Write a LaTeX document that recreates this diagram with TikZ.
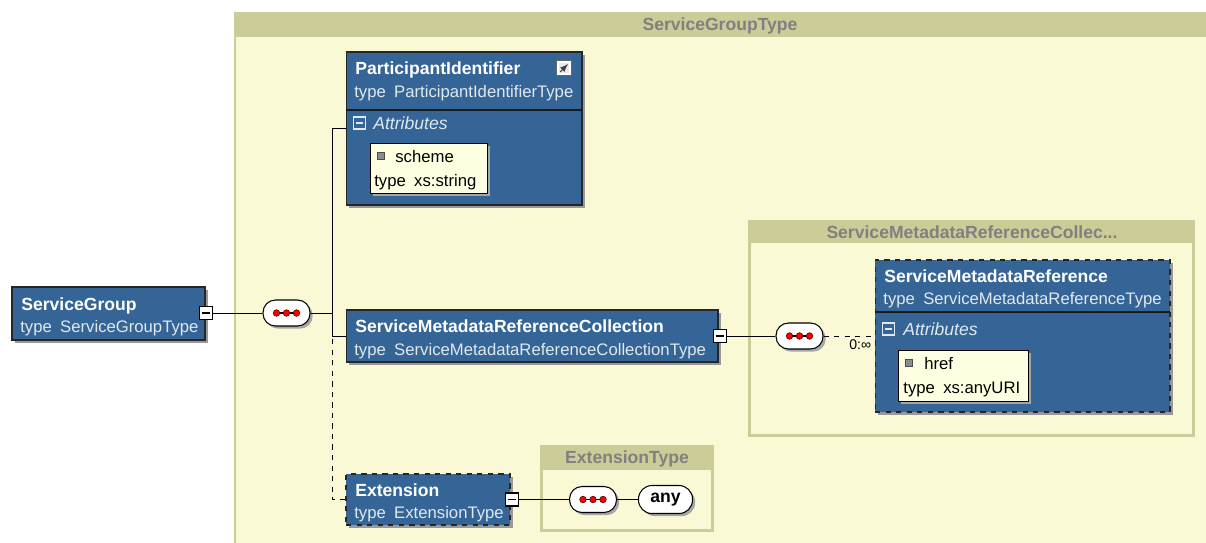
\documentclass[tikz,border=0pt]{standalone}
\usepackage{fontspec}
\setmainfont{Liberation Sans}
\usepackage{xcolor}
\usetikzlibrary{shadows}

\definecolor{elemblue}{RGB}{52,101,150}
\definecolor{khaki}{RGB}{204,204,153}
\definecolor{paleyellow}{RGB}{249,249,214}
\definecolor{attrfill}{RGB}{255,255,225}
\definecolor{typegray}{RGB}{128,128,128}

\tikzset{
  elem/.style={draw=black!85, fill=elemblue, line width=0.6pt,
    drop shadow={shadow xshift=1.7pt, shadow yshift=-1.7pt, fill=black!40, opacity=1}},
  optelem/.style={elem, dashed},
  attrbox/.style={draw=black, fill=attrfill, line width=0.5pt,
    drop shadow={shadow xshift=1.5pt, shadow yshift=-1.5pt, fill=black!35, opacity=1}},
  title/.style={anchor=base west, inner sep=0, text=white, font=\bfseries},
  typeline/.style={anchor=base west, inner sep=0, text=white!85!elemblue},
  attlabel/.style={anchor=base west, inner sep=0, text=white!85!elemblue, font=\itshape},
  attrtext/.style={anchor=base west, inner sep=0, text=black},
  header/.style={text=typegray, font=\bfseries, inner sep=0},
  minus/.style={draw=black, fill=white, minimum size=0.26cm, inner sep=0, line width=0.6pt},
  attminus/.style={draw=white!85!elemblue, minimum size=0.24cm, inner sep=0, line width=0.6pt, text=white!85!elemblue},
  bullet/.style={draw=black!70, fill=black!45, minimum size=0.13cm, inner sep=0},
  seq/.style={draw=black, fill=white, rounded corners=0.25cm, minimum width=0.94cm,
    minimum height=0.52cm, inner sep=0, line width=0.6pt,
    drop shadow={shadow xshift=1.5pt, shadow yshift=-1.5pt, fill=black!35, opacity=1}},
  dot/.style={fill=red, draw=red!45!black, line width=0.4pt},
  wild/.style={seq, font=\bfseries, minimum width=1.08cm, minimum height=0.56cm, rounded corners=0.27cm},
  link/.style={draw=black!60, fill=black!8, minimum size=0.3cm, inner sep=0},
  divider/.style={draw=black!90, line width=0.8pt},
}

\begin{document}
\begin{tikzpicture}[x=0.02cm, y=-0.02cm, font=\fontsize{9.5}{11}\selectfont]
\useasboundingbox (0,0) rectangle (1206,542);

% complex types
\fill[paleyellow] (234,12) rectangle (1210,546);
\fill[khaki] (234,12) rectangle (1210,37);
\draw[khaki, line width=1.2pt] (235,12) -- (235,546);
\node[header] (sgtype) at (720,26) {ServiceGroupType};

\fill[khaki] (748,220) rectangle (1195,437);
\fill[paleyellow] (751,243) rectangle (1192,434);
\node[header] (smrctype) at (972,232) {ServiceMetadataReferenceCollec...};

\fill[khaki] (540,445) rectangle (714,532);
\fill[paleyellow] (543,470) rectangle (711,529);
\node[header] (exttype) at (627,459) {ExtensionType};

% elements
\node[elem, minimum width=3.86cm, minimum height=1.06cm] (sg) at (108.5,313.5) {};
\node[title] (sgname) at (21,310) {ServiceGroup};
\node[typeline] (sgtypel) at (20,332) {type\enspace ServiceGroupType};
\node[minus] (sgminus) at (206,313) {\rule{5pt}{0.8pt}};

\node[seq] (seq1) at (286.5,313) {};
\coordinate (jn) at (332,313);

\node[elem, minimum width=4.72cm, minimum height=3.06cm] (pi) at (464,128.5) {};
\draw[divider] (346,110) -- (582,110);
\node[title] (piname) at (355,74) {ParticipantIdentifier};
\node[typeline] (pitype) at (354,97) {type\enspace ParticipantIdentifierType};
\node[link] (pilink) at (564,68) {};
\draw[white, line width=0.6pt] ([shift={(-6,-6)}]pilink.center) rectangle ([shift={(6,6)}]pilink.center);
\draw[->, >=latex, black!75, line width=0.6pt] ([shift={(-4,4)}]pilink.center) -- ([shift={(4,-4)}]pilink.center);
\node[attminus] (piatt) at (359.5,123) {\rule{4.5pt}{0.7pt}};
\node[attlabel] (piattl) at (373,129) {Attributes};
\node[attrbox, minimum width=2.34cm, minimum height=1.0cm] (scheme) at (428.5,168) {};
\node[bullet] (schemeb) at (381,156) {};
\node[attrtext] (schemen) at (395,162) {scheme};
\node[attrtext] (schemet) at (374,186) {type\enspace xs:string};

\node[elem, minimum width=7.44cm, minimum height=1.04cm] (smrc) at (532,336) {};
\node[title] (smrcname) at (355,332) {ServiceMetadataReferenceCollection};
\node[typeline] (smrctypel) at (354,355) {type\enspace ServiceMetadataReferenceCollectionType};
\node[minus] (smrcminus) at (720,336) {\rule{5pt}{0.8pt}};

\node[seq] (seq2) at (799.5,336) {};

\node[optelem, minimum width=5.9cm, minimum height=3.04cm] (smr) at (1022.5,336) {};
\draw[divider] (875,312) -- (1170,312);
\node[title] (smrname) at (884,282) {ServiceMetadataReference};
\node[typeline] (smrtypel) at (883,304) {type\enspace ServiceMetadataReferenceType};
\node[attminus] (smratt) at (888.5,329) {\rule{4.5pt}{0.7pt}};
\node[attlabel] (smrattl) at (903,335) {Attributes};
\node[attrbox, minimum width=2.6cm, minimum height=1.02cm] (href) at (963,375.5) {};
\node[bullet] (hrefb) at (909,363) {};
\node[attrtext] (hrefn) at (924,369) {href};
\node[attrtext] (hreft) at (903,393) {type\enspace xs:anyURI};

\node[optelem, minimum width=3.28cm, minimum height=1.02cm] (ext) at (428,499.5) {};
\node[title] (extname) at (355,496) {Extension};
\node[typeline] (exttypel) at (354,518) {type\enspace ExtensionType};
\node[minus] (extminus) at (512,499.5) {\rule{5pt}{0.8pt}};

\node[seq] (seq3) at (593,499.5) {};
\node[wild] (any) at (665.5,499.5) {any};

% sequence dots
\foreach \s in {seq1,seq2,seq3} {
  \draw[line width=0.6pt] ([xshift=-0.2cm]\s.center) -- ([xshift=0.2cm]\s.center);
  \foreach \dx in {-0.2,0,0.2}
    \filldraw[dot] ([xshift=\dx cm]\s.center) circle (0.065cm);
}

% connectors
\draw[dashed] (ext.west) -| (jn);
\draw (sgminus.east) -- (seq1.west);
\draw (seq1.east) -- (jn);
\draw (pi.west) -| (jn);
\draw (smrc.west) -| (jn);
\draw (smrcminus.east) -- (seq2.west);
\draw[dashed] (seq2.east) -- node[pos=0.72, below, inner sep=2pt, font=\fontsize{8}{9}\selectfont]{0:∞} (smr.west);
\draw (extminus.east) -- (seq3.west);
\draw (seq3.east) -- (any.west);

\end{tikzpicture}
\end{document}
